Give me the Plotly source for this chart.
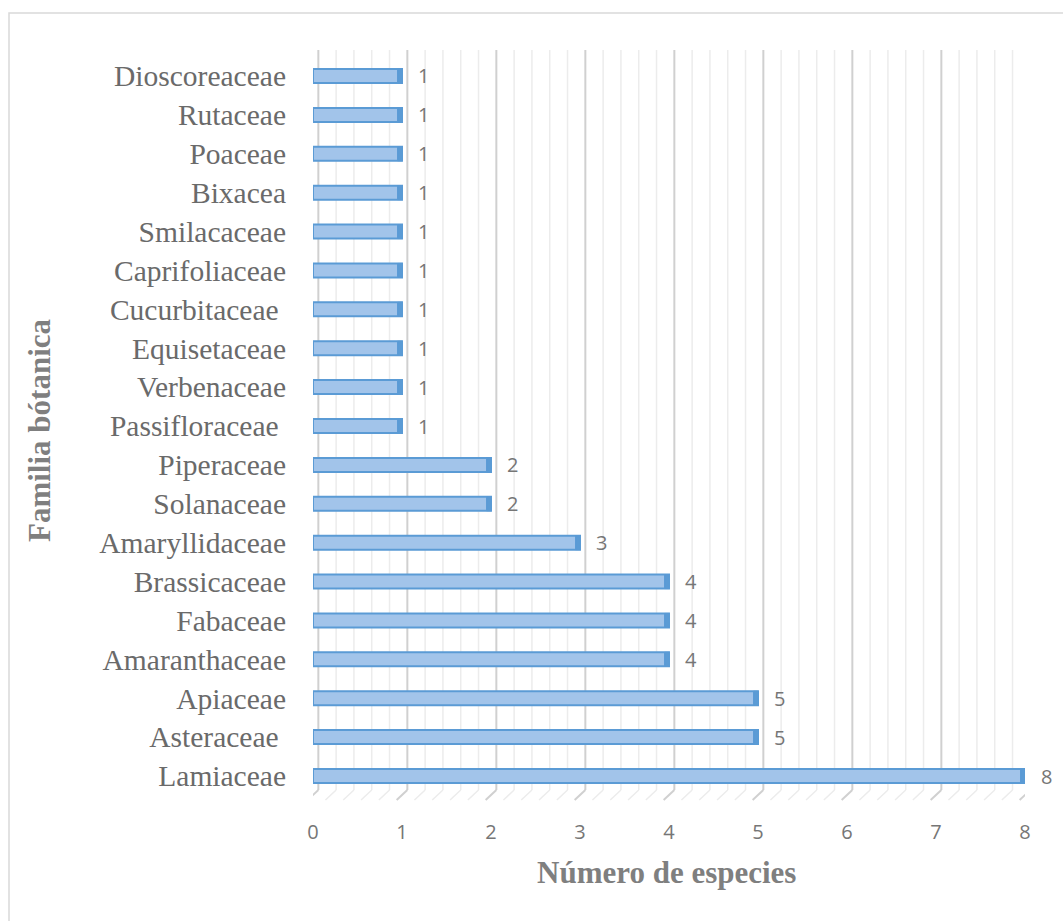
import plotly.graph_objects as go

# Familias botánicas (de abajo hacia arriba) y número de especies
familias = [
    "Lamiaceae", "Asteraceae\u00a0", "Apiaceae", "Amaranthaceae", "Fabaceae",
    "Brassicaceae", "Amaryllidaceae", "Solanaceae", "Piperaceae",
    "Passifloraceae\u00a0", "Verbenaceae", "Equisetaceae", "Cucurbitaceae\u00a0",
    "Caprifoliaceae", "Smilacaceae", "Bixacea", "Poaceae", "Rutaceae",
    "Dioscoreaceae",
]
especies = [8, 5, 5, 4, 4, 4, 3, 2, 2, 1, 1, 1, 1, 1, 1, 1, 1, 1, 1]
x_ticks = [0, 1, 2, 3, 4, 5, 6, 7, 8]

W, H = 1063, 921
L, R, T, B = 313, 1025, 50, 800  # plot area in pixels

FILL = "#a2c4ea"
EDGE = "#5b9bd5"
TXT = "#6a6a6a"
NUM = "#767676"
SERIF = "Liberation Serif, Times New Roman, serif"
SANS = "Open Sans, Liberation Sans, sans-serif"

def px_x(p):
    return (p - L) / (R - L)

def px_y(p):
    return (B - p) / (B - T)

fig = go.Figure()

bar_w = 0.36
fig.add_trace(go.Bar(
    y=list(range(len(familias))), x=especies, orientation="h",
    width=bar_w,
    marker=dict(color=FILL, line=dict(color=EDGE, width=2)),
    hoverinfo="skip",
))

shapes = []
# back-wall gridlines (minor every 0.2, major every 1) with the 3D floor edge
depth = 0.06
for k in range(0, 41):
    v = k * 0.2
    major = k % 5 == 0
    col = "#d0d0d0" if major else "#ececec"
    shapes.append(dict(type="line", xref="x", yref="paper",
                       x0=v + depth, x1=v + depth, y0=px_y(790), y1=1,
                       line=dict(color=col, width=2 if major else 1.5), layer="below"))
    shapes.append(dict(type="line", xref="x", yref="paper",
                       x0=v + depth, x1=v - depth, y0=px_y(790), y1=px_y(800),
                       line=dict(color=col, width=2 if major else 1.5), layer="below"))

# darker end cap of each bar
for i, v in enumerate(especies):
    shapes.append(dict(type="rect", xref="x", yref="y",
                       x0=v - 0.05, x1=v, y0=i - bar_w / 2, y1=i + bar_w / 2,
                       fillcolor=EDGE, line=dict(color=EDGE, width=1)))

# chart frame
shapes.append(dict(type="rect", xref="paper", yref="paper",
                   x0=px_x(9), x1=px_x(1075), y0=px_y(935), y1=px_y(13),
                   line=dict(color="#d9d9d9", width=1.5), fillcolor="rgba(0,0,0,0)",
                   layer="below"))

annotations = []
for i, v in enumerate(especies):
    annotations.append(dict(x=v, y=i, xref="x", yref="y", text=str(v),
                            showarrow=False, xanchor="left", xshift=14,
                            font=dict(family=SANS, size=20, color=NUM)))

annotations.append(dict(x=px_x(666), y=px_y(872), xref="paper", yref="paper",
                        xanchor="center", yanchor="middle",
                        text="<b>Número de especies</b>", showarrow=False,
                        font=dict(family=SERIF, size=31, color="#7f7f7f")))
annotations.append(dict(x=px_x(40), y=px_y(430), xref="paper", yref="paper",
                        xanchor="center", yanchor="middle",
                        text="<b>Familia bótanica</b>", showarrow=False, textangle=-90,
                        font=dict(family=SERIF, size=31, color="#7f7f7f")))

fig.update_layout(
    width=W, height=H,
    margin=dict(l=L, r=W - R, t=T, b=H - B, pad=0),
    paper_bgcolor="white", plot_bgcolor="white",
    showlegend=False,
    shapes=shapes, annotations=annotations,
    xaxis=dict(range=[0, 8], tickvals=x_ticks, ticktext=[str(t) for t in x_ticks],
               showgrid=False, zeroline=False, showline=False, ticks="",
               tickfont=dict(family=SANS, size=20, color=NUM),
               ticklabelstandoff=18, fixedrange=True),
    yaxis=dict(range=[-(800 - 776) / 38.9, 18 + (76 - 50) / 38.9],
               tickvals=list(range(len(familias))), ticktext=familias,
               showgrid=False, zeroline=False, showline=False, ticks="",
               tickfont=dict(family=SERIF, size=29.5, color=TXT),
               ticklabelstandoff=26, fixedrange=True),
)

fig.write_html("out.html")
